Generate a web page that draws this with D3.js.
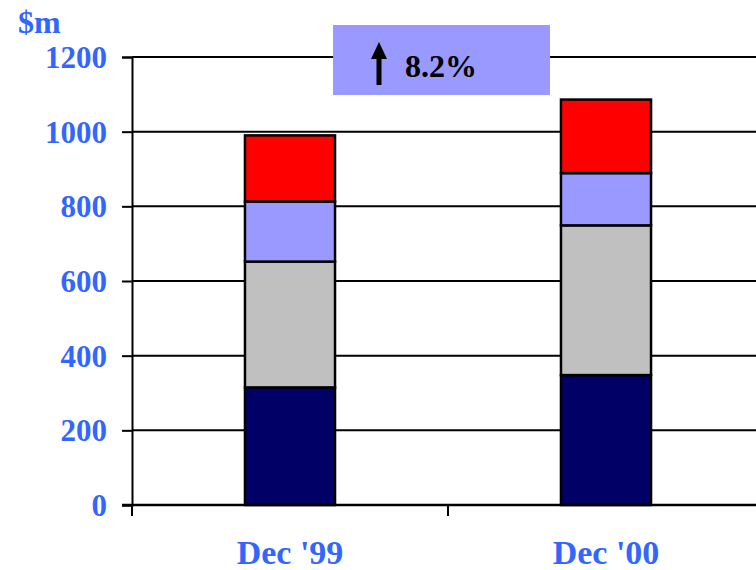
<!DOCTYPE html>
<html>
<head>
<meta charset="utf-8">
<script src="https://cdn.jsdelivr.net/npm/d3@7"></script>
<style>
  html, body { margin: 0; padding: 0; background: #fff; }
  svg { display: block; }
  text { font-family: "Liberation Serif", "Times New Roman", serif; font-weight: bold; }
</style>
</head>
<body>
<svg id="chart" width="756" height="570"></svg>
<script>
// Balances by period, stacked bottom to top
const categories = ["Dec '99", "Dec '00"];
const seriesNames = ["Segment A", "Segment B", "Segment C", "Segment D"];
const segmentA = [315, 348];
const segmentB = [337, 401];
const segmentC = [161, 140];
const segmentD = [177, 197];
const yTicks = [0, 200, 400, 600, 800, 1000, 1200];
const growthLabel = "8.2%";
const unitLabel = "$m";

const colors = ["#000066", "#c0c0c0", "#9999ff", "#ff0000"];
const labelColor = "#3366ff";

const svg = d3.select("#chart");
const plot = { left: 132, right: 764, top: 57, bottom: 505 };

const rows = categories.map((c, i) => ({
  cat: c,
  "Segment A": segmentA[i],
  "Segment B": segmentB[i],
  "Segment C": segmentC[i],
  "Segment D": segmentD[i]
}));
const stacked = d3.stack().keys(seriesNames)(rows);

const x = d3.scaleBand().domain(categories).range([plot.left, plot.right]).padding(0);
const y = d3.scaleLinear().domain([0, 1200]).range([plot.bottom, plot.top]);
const barW = x.bandwidth() * 0.285;

// horizontal grid lines
svg.append("g")
  .selectAll("line")
  .data(yTicks.filter(t => t > 0))
  .join("line")
  .attr("x1", plot.left).attr("x2", plot.right)
  .attr("y1", d => y(d)).attr("y2", d => y(d))
  .attr("stroke", "#000").attr("stroke-width", 2);

// stacked bars
svg.append("g")
  .selectAll("g")
  .data(stacked)
  .join("g")
  .attr("fill", (d, i) => colors[i])
  .selectAll("rect")
  .data(d => d)
  .join("rect")
  .attr("x", d => x(d.data.cat) + (x.bandwidth() - barW) / 2)
  .attr("width", barW)
  .attr("y", d => y(d[1]))
  .attr("height", d => y(d[0]) - y(d[1]))
  .attr("stroke", "#000")
  .attr("stroke-width", 2.5);

// y axis
const yAxis = svg.append("g")
  .attr("transform", `translate(${plot.left},0)`)
  .call(d3.axisLeft(y).tickValues(yTicks).tickSize(10).tickPadding(15).tickFormat(d3.format("d")));
yAxis.select(".domain").attr("stroke", "#000").attr("stroke-width", 2);
yAxis.selectAll(".tick line").attr("stroke", "#000").attr("stroke-width", 2);
yAxis.selectAll(".tick text")
  .attr("fill", labelColor)
  .style("font-size", "31px")
  .style("font-family", "'Liberation Serif', serif")
  .style("font-weight", "bold")
  .attr("dy", "0.34em");

// x axis baseline with boundary ticks
const xg = svg.append("g");
xg.append("line")
  .attr("x1", plot.left - 10).attr("x2", plot.right)
  .attr("y1", y(0)).attr("y2", y(0))
  .attr("stroke", "#000").attr("stroke-width", 2.5);
xg.selectAll("line.bt")
  .data(categories)
  .join("line")
  .attr("class", "bt")
  .attr("x1", d => x(d)).attr("x2", d => x(d))
  .attr("y1", y(0)).attr("y2", y(0) + 11)
  .attr("stroke", "#000").attr("stroke-width", 2);
xg.selectAll("text")
  .data(categories)
  .join("text")
  .attr("x", d => x(d) + x.bandwidth() / 2)
  .attr("y", 564)
  .attr("text-anchor", "middle")
  .attr("fill", labelColor)
  .style("font-size", "34px")
  .text(d => d);

// unit label
svg.append("text")
  .attr("x", 18).attr("y", 33)
  .attr("fill", labelColor)
  .style("font-size", "32px")
  .text(unitLabel);

// growth callout
const callout = svg.append("g");
callout.append("rect")
  .attr("x", 333).attr("y", 25).attr("width", 217).attr("height", 70)
  .attr("fill", "#9999ff");
callout.append("path")
  .attr("d", "M379,42 L387,59 L381.5,59 L381.5,85 L376.5,85 L376.5,59 L371,59 Z")
  .attr("fill", "#000");
callout.append("text")
  .attr("x", 405).attr("y", 77)
  .attr("fill", "#000")
  .style("font-size", "32px")
  .text(growthLabel);
</script>
</body>
</html>
